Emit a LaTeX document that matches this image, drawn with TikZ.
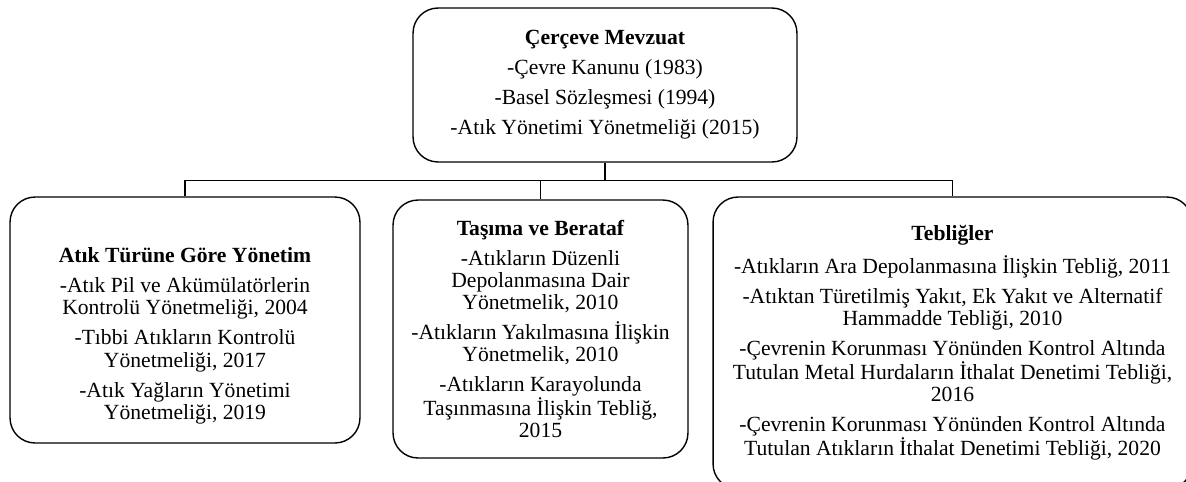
\documentclass[tikz,border=0pt]{standalone}
\usepackage{fontspec}
\setmainfont{Liberation Serif}
\usetikzlibrary{positioning}
\newcommand{\itemgap}{\\[4.5pt]}

\begin{document}
\begin{tikzpicture}[x=0.02cm, y=-0.02cm,
    lawbox/.style={draw, thick, rounded corners=0.5cm, align=center, inner sep=0pt,
      font=\fontsize{12.3}{12.6}\selectfont},
    link/.style={thick}]
  \clip (0,0) rectangle (1186,481);

  % top box
  \node [lawbox, minimum width=7.68cm, minimum height=3.08cm] (cerceve) at (605,85)
    {\textbf{Çerçeve Mevzuat}\itemgap
     -Çevre Kanunu (1983)\itemgap
     -Basel Sözleşmesi (1994)\itemgap
     -Atık Yönetimi Yönetmeliği (2015)};

  % lower boxes
  \node [lawbox, minimum width=7cm, minimum height=4.92cm] (turune) at (185,320)
    {\rule{0pt}{26.5pt}\textbf{Atık Türüne Göre Yönetim}\itemgap
     -Atık Pil ve Akümülatörlerin\\Kontrolü Yönetmeliği, 2004\itemgap
     -Tıbbi Atıkların Kontrolü\\Yönetmeliği, 2017\itemgap
     -Atık Yağların Yönetimi\\Yönetmeliği, 2019};
  \node [lawbox, minimum width=5.9cm, minimum height=5.16cm] (tasima) at (540.5,329)
    {\textbf{Taşıma ve Berataf}\itemgap
     -Atıkların Düzenli\\Depolanmasına Dair\\Yönetmelik, 2010\itemgap
     -Atıkların Yakılmasına İlişkin\\Yönetmelik, 2010\itemgap
     -Atıkların Karayolunda\\Taşınmasına İlişkin Tebliğ,\\2015};
  \node [lawbox, minimum width=9.58cm, minimum height=5.84cm] (teblig) at (952.5,343)
    {\textbf{Tebliğler}\itemgap
     -Atıkların Ara Depolanmasına İlişkin Tebliğ, 2011\itemgap
     -Atıktan Türetilmiş Yakıt, Ek Yakıt ve Alternatif\\Hammadde Tebliği, 2010\itemgap
     -Çevrenin Korunması Yönünden Kontrol Altında\\Tutulan Metal Hurdaların İthalat Denetimi Tebliği,\\2016\itemgap
     -Çevrenin Korunması Yönünden Kontrol Altında\\Tutulan Atıkların İthalat Denetimi Tebliği, 2020};

  % connectors
  \draw [link] (cerceve.south) -- ++(0,18) coordinate (bus);
  \draw [link] (turune.north) |- (bus) -| (teblig.north);
  \draw [link] (tasima.north) -- (tasima.north |- bus);
\end{tikzpicture}
\end{document}
